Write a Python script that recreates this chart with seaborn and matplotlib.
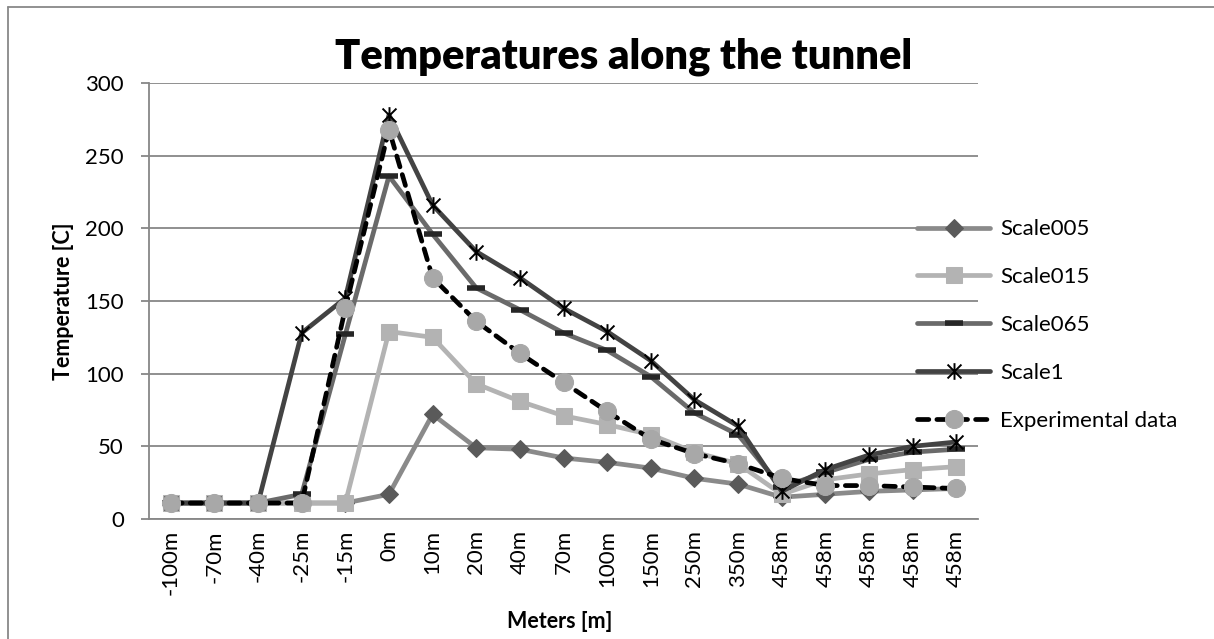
import numpy as np
import pandas as pd
import matplotlib
matplotlib.use("Agg")
import matplotlib.pyplot as plt
from matplotlib.path import Path
from matplotlib.lines import Line2D
import seaborn as sns

# --- data ---
locations = ["-100m", "-70m", "-40m", "-25m", "-15m", "0m", "10m", "20m", "40m",
             "70m", "100m", "150m", "250m", "350m", "458m", "458m", "458m", "458m", "458m"]

scale005 = [11, 11, 11, 11, 11, 17, 72, 49, 48, 42, 39, 35, 28, 24, 15, 17, 19, 20, 21]
scale015 = [11, 11, 11, 11, 11, 129, 125, 93, 81, 71, 65, 58, 46, 38, 17, 27, 31, 34, 36]
scale065 = [11, 11, 11, 17, 127, 236, 196, 159, 144, 128, 116, 98, 73, 58, 22, 32, 41, 46, 48]
scale1 = [11, 11, 11, 128, 152, 278, 216, 184, 166, 145, 129, 109, 82, 64, 19, 34, 44, 50, 53]
experimental = [11, 11, 11, 11, 145, 268, 166, 136, 114, 94, 74, 55, 45, 38, 28, 23, 23, 22, 21]

series_names = ["Scale005", "Scale015", "Scale065", "Scale1", "Experimental data"]

# excel style star marker: X with a vertical bar
star = Path([[-1, -1], [1, 1], [-1, 1], [1, -1], [0, -1.2], [0, 1.2]],
            [Path.MOVETO, Path.LINETO] * 3)

styles = {
    "Scale005": dict(color="#8a8a8a", marker="D", markersize=9.5,
                     markerfacecolor="#5a5a5a", markeredgecolor="#5a5a5a"),
    "Scale015": dict(color="#b3b3b3", marker="s", markersize=11,
                     markerfacecolor="#b3b3b3", markeredgecolor="#b3b3b3"),
    "Scale065": dict(color="#6a6a6a", marker="_", markersize=13,
                     markeredgewidth=4, markeredgecolor="#262626"),
    "Scale1": dict(color="#434343", marker=star, markersize=12,
                   markeredgewidth=1.4, markeredgecolor="black", markerfacecolor="none"),
    "Experimental data": dict(color="black", marker="o", markersize=13,
                              markerfacecolor="#a8a8a8", markeredgecolor="#a8a8a8",
                              linestyle=(0, (2.4, 1.7)), dash_capstyle="round"),
}

values = {"Scale005": scale005, "Scale015": scale015, "Scale065": scale065,
          "Scale1": scale1, "Experimental data": experimental}

sns.set_theme(style="white")
plt.rcParams["font.family"] = ["Lato", "DejaVu Sans"]
plt.rcParams["text.color"] = "black"
plt.rcParams["xtick.color"] = "black"
plt.rcParams["ytick.color"] = "black"

fig = plt.figure(figsize=(12.14, 6.39), dpi=100)
ax = fig.add_axes([149 / 1214, 1 - 519 / 639, (978 - 149) / 1214, (519 - 83) / 639])

pos = np.arange(len(locations))
for name in series_names:
    df = pd.DataFrame({"pos": pos, "temp": values[name]})
    sns.lineplot(data=df, x="pos", y="temp", ax=ax, label=name,
                 linewidth=3.4, solid_capstyle="round", **styles[name])

grid_col = "#878787"
ax.set_ylim(0, 300)
ax.set_yticks(np.arange(0, 301, 50))
ax.yaxis.grid(True, color=grid_col, linewidth=1.3)
ax.set_xlim(-0.5, len(locations) - 0.5)
ax.set_xticks(pos)
ax.set_xticklabels(locations, rotation=90)
ax.set_xticks(np.arange(-0.5, len(locations)), minor=True)
ax.tick_params(axis="x", which="major", length=0, pad=8, labelsize=16, labelcolor="black")
ax.tick_params(axis="x", which="minor", length=6, width=1.3, color=grid_col, direction="out")
ax.tick_params(axis="y", length=6, width=1.3, color=grid_col, direction="out",
               pad=12, labelsize=16, labelcolor="black")
ax.tick_params(axis="x", which="major", bottom=True)
ax.tick_params(axis="y", left=True)

for side in ["top", "right"]:
    ax.spines[side].set_visible(False)
for side in ["left", "bottom"]:
    ax.spines[side].set_color(grid_col)
    ax.spines[side].set_linewidth(1.3)

ax.set_xlabel("")
ax.set_ylabel("")
fig.text(63 / 1214, 1 - 301 / 639, "Temperature [C]", rotation=90, ha="center", va="center",
         fontsize=15.5, fontweight="bold", color="black")
fig.text(560 / 1214, 1 - 622 / 639, "Meters [m]", ha="center", va="center",
         fontsize=15.5, fontweight="bold", color="black")
fig.text(624 / 1214, 1 - 57 / 639, "Temperatures along the tunnel", ha="center", va="center",
         fontsize=30, fontweight="heavy", color="black")

leg = ax.legend(loc="center left", bbox_to_anchor=(917 / 1214, 1 - 325 / 639),
                bbox_transform=fig.transFigure, frameon=False, fontsize=16,
                borderpad=0, borderaxespad=0, handlelength=3.3, handletextpad=0.45,
                labelspacing=1.25)
for t in leg.get_texts():
    t.set_color("black")

# chart area border (only left/top visible in the crop)
fig.add_artist(Line2D([8 / 1214, 8 / 1214], [0, 1 - 7 / 639], transform=fig.transFigure,
                      color="#888888", linewidth=1.3))
fig.add_artist(Line2D([8 / 1214, 1], [1 - 7 / 639, 1 - 7 / 639], transform=fig.transFigure,
                      color="#888888", linewidth=1.3))

fig.savefig("out.png", dpi=100)
